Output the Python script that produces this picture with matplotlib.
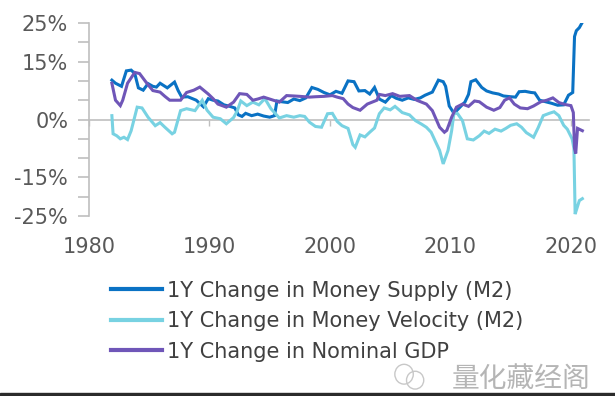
# 1Y change in M2, M2 velocity and nominal GDP

import matplotlib.pyplot as plt
from matplotlib.patches import Rectangle, Ellipse

# Data (% change y/y)
m2_years = [1981.9, 1982.2, 1982.7, 1983.1, 1983.5, 1983.8, 1984.1, 1984.5, 1984.9, 1985.3,
            1985.6, 1985.9, 1986.5, 1987.1, 1987.4, 1987.7, 1988.2, 1988.9, 1989.5, 1989.9,
            1990.3, 1990.7, 1991.2, 1991.7, 1992.1, 1992.4, 1992.7, 1993.0, 1993.5, 1994.0,
            1994.5, 1995.0, 1995.4, 1995.6, 1996.0, 1996.5, 1997.0, 1997.5, 1998.0, 1998.5,
            1999.0, 1999.5, 2000.0, 2000.5, 2001.0, 2001.5, 2002.0, 2002.4, 2002.9, 2003.3,
            2003.7, 2004.1, 2004.6, 2005.1, 2005.5, 2006.0, 2006.5, 2007.0, 2007.5, 2007.9,
            2008.5, 2009.0, 2009.4, 2009.6, 2009.9, 2010.3, 2010.7, 2011.2, 2011.5, 2011.7,
            2012.1, 2012.6, 2013.0, 2013.5, 2014.0, 2014.4, 2015.0, 2015.4, 2015.7, 2016.2,
            2016.7, 2017.0, 2017.4, 2017.9, 2018.4, 2018.9, 2019.4, 2019.8, 2020.15, 2020.3,
            2020.45, 2020.7, 2020.95]
m2_vals = [10.2, 9.4, 8.6, 12.6, 12.8, 11.9, 8.2, 7.6, 9.3, 8.6,
           8.4, 9.4, 8.2, 9.7, 7.5, 5.8, 5.9, 5.0, 3.3, 5.4,
           5.0, 4.8, 3.8, 3.4, 3.0, 1.2, 0.8, 1.6, 1.0, 1.4,
           0.9, 0.6, 1.0, 4.8, 4.6, 4.4, 5.3, 4.9, 5.6, 8.3,
           7.8, 7.0, 6.4, 7.3, 6.8, 10.0, 9.8, 7.4, 7.5, 6.6,
           8.3, 5.3, 4.5, 6.2, 5.5, 5.0, 5.6, 5.2, 5.6, 6.3,
           7.1, 10.2, 9.8, 8.6, 3.5, 1.6, 2.9, 4.5, 6.5, 9.8,
           10.3, 8.3, 7.4, 6.9, 6.6, 6.1, 5.9, 5.8, 7.2, 7.3,
           7.0, 6.9, 5.0, 4.6, 4.2, 3.7, 3.8, 6.3, 7.0, 21.5,
           23.0, 23.8, 25.2]

vel_years = [1981.9, 1982.0, 1982.3, 1982.6, 1982.9, 1983.2, 1983.5, 1984.0, 1984.4, 1984.9,
             1985.5, 1985.9, 1986.3, 1986.9, 1987.1, 1987.6, 1988.1, 1988.8, 1989.4, 1989.8,
             1990.3, 1990.9, 1991.4, 1992.0, 1992.3, 1992.6, 1993.1, 1993.6, 1994.1, 1994.6,
             1995.1, 1995.8, 1996.4, 1997.0, 1997.5, 1997.9, 1998.3, 1998.8, 1999.3, 1999.8,
             2000.2, 2000.6, 2001.0, 2001.5, 2001.9, 2002.1, 2002.5, 2002.9, 2003.3, 2003.7,
             2004.1, 2004.5, 2005.0, 2005.4, 2006.0, 2006.6, 2007.1, 2007.6, 2008.0, 2008.4,
             2008.8, 2009.1, 2009.4, 2009.8, 2010.1, 2010.3, 2010.6, 2011.0, 2011.4, 2011.9,
             2012.4, 2012.8, 2013.2, 2013.7, 2014.2, 2014.6, 2015.0, 2015.5, 2015.9, 2016.3,
             2016.9, 2017.3, 2017.7, 2018.2, 2018.6, 2019.0, 2019.4, 2019.7, 2020.1, 2020.25,
             2020.35, 2020.55, 2020.7, 2020.95]
vel_vals = [1.0, -3.7, -4.2, -5.0, -4.6, -5.2, -2.9, 3.2, 3.0, 0.6,
            -1.6, -0.8, -2.0, -3.7, -3.3, 2.3, 2.8, 2.3, 5.0, 2.4,
            0.6, 0.2, -1.1, 0.5, 2.2, 4.8, 3.6, 4.5, 3.8, 5.4,
            2.8, 0.4, 1.0, 0.6, 1.0, 0.8, -0.7, -1.8, -2.0, 1.5,
            1.6, -0.5, -1.6, -2.3, -6.5, -7.2, -4.0, -4.5, -3.3, -2.2,
            1.5, 3.0, 2.5, 3.4, 1.8, 1.2, -0.3, -1.2, -2.0, -3.3,
            -6.0, -8.0, -11.5, -8.0, -2.9, 1.8, 1.5, -0.3, -5.0, -5.3,
            -4.2, -3.0, -3.6, -2.5, -3.0, -2.3, -1.5, -1.1, -2.0, -3.4,
            -4.6, -2.0, 1.0, 1.6, 2.0, 1.0, -1.5, -2.5, -5.0, -7.5,
            -24.5, -22.5, -21.0, -20.5]

gdp_years = [1981.9, 1982.2, 1982.6, 1982.8, 1983.2, 1983.8, 1984.2, 1984.8, 1985.3, 1985.9,
             1986.3, 1986.7, 1987.6, 1988.1, 1988.7, 1989.2, 1989.9, 1990.3, 1990.7, 1991.4,
             1992.0, 1992.5, 1993.1, 1993.6, 1994.0, 1994.5, 1995.3, 1995.8, 1996.4, 1997.0,
             1997.5, 1998.3, 1998.8, 1999.5, 2000.2, 2000.6, 2001.1, 2001.5, 2001.9, 2002.5,
             2003.1, 2003.9, 2004.1, 2004.6, 2005.2, 2005.8, 2006.6, 2007.2, 2008.0, 2008.5,
             2009.1, 2009.5, 2009.7, 2010.1, 2010.5, 2011.0, 2011.5, 2012.0, 2012.4, 2013.0,
             2013.6, 2014.1, 2014.5, 2014.9, 2015.3, 2015.8, 2016.4, 2016.9, 2017.5, 2018.0,
             2018.5, 2019.0, 2019.5, 2020.0, 2020.2, 2020.3, 2020.4, 2020.55, 2020.75, 2020.95]
gdp_vals = [9.4, 5.0, 3.6, 5.0, 9.4, 12.2, 11.9, 9.4, 7.5, 7.1,
            6.0, 5.0, 5.0, 7.0, 7.6, 8.4, 6.6, 5.4, 4.0, 3.2,
            4.5, 6.7, 6.5, 5.0, 5.3, 5.8, 5.0, 4.5, 6.2, 6.1,
            6.0, 5.8, 5.9, 6.0, 6.2, 5.8, 5.4, 4.0, 3.1, 2.4,
            4.0, 5.0, 6.5, 6.2, 6.7, 6.0, 6.2, 5.0, 4.0, 2.3,
            -2.0, -3.3, -2.8, 0.6, 3.2, 4.0, 3.4, 4.8, 4.6, 3.2,
            2.4, 3.1, 5.0, 5.6, 4.0, 3.0, 2.8, 3.5, 4.6, 5.0,
            5.6, 4.4, 3.9, 3.6, 1.8, -7.5, -8.8, -2.3, -2.6, -2.9]

labels = ["1Y Change in Money Supply (M2)",
          "1Y Change in Money Velocity (M2)",
          "1Y Change in Nominal GDP"]
colors = ["#0A72C4", "#78D2E2", "#6F56B8"]

x_ticks = [1980, 1990, 2000, 2010, 2020]
y_ticks = [-25, -20, -15, -10, -5, 0, 5, 10, 15, 20, 25]
y_labeled = [25, 15, 0, -15, -25]

gray = "#BFBFBF"
txt = "#595959"

fig = plt.figure(figsize=(6.15, 3.96), dpi=100)
ax = fig.add_axes([0.1447, 0.4545, 0.813, 0.4874])

handles = []
for xs, ys, c, lab in zip([m2_years, vel_years, gdp_years], [m2_vals, vel_vals, gdp_vals], colors, labels):
    h, = ax.plot(xs, ys, color=c, lw=2.2, label=lab, zorder=3, solid_joinstyle='miter')
    handles.append(h)

ax.set_xlim(1980, 2021.5)
ax.set_ylim(-25, 25)

# zero line with small ticks, labels on a separate bottom axis
ax.spines['bottom'].set_position(('data', 0))
ax.spines['bottom'].set_color(gray)
ax.spines['bottom'].set_linewidth(1.2)
ax.spines['left'].set_color(gray)
ax.spines['left'].set_linewidth(1.2)
ax.spines['top'].set_visible(False)
ax.spines['right'].set_visible(False)
ax.set_xticks(x_ticks)
ax.tick_params(axis='x', length=4, width=1, color=gray, labelbottom=False)

sec = ax.secondary_xaxis('bottom')
sec.set_xticks(x_ticks, labels=[str(y) for y in x_ticks])
sec.tick_params(length=0, pad=15, labelsize=15, labelcolor=txt)
sec.spines['bottom'].set_visible(False)

ax.set_yticks(y_ticks, labels=[f"{v}%" if v in y_labeled else "" for v in y_ticks])
ax.tick_params(axis='y', length=8, width=1.2, color=gray, pad=7, labelsize=15, labelcolor=txt)

leg = fig.legend(handles=handles, loc='upper left', bbox_to_anchor=(0.1805, 0.291),
                 frameon=False, fontsize=15, handlelength=2.45, handletextpad=0.25,
                 labelspacing=0.5, borderpad=0, borderaxespad=0)
for t in leg.get_texts():
    t.set_color("#404040")
for l in leg.get_lines():
    l.set_linewidth(3)

# watermark and bottom bar
fig.text(0.848, 0.044, "量化藏经阁", family=['Noto Sans CJK SC', 'DejaVu Sans'],
         fontsize=20, color="#B5B5B5", ha='center', va='center')
fig.add_artist(Ellipse((0.657, 0.055), 0.03, 0.05, transform=fig.transFigure,
                       fill=False, ec="#C8C8C8", lw=1))
fig.add_artist(Ellipse((0.675, 0.04), 0.028, 0.045, transform=fig.transFigure,
                       fill=False, ec="#C8C8C8", lw=1))
fig.add_artist(Rectangle((0, 0), 1, 3.5 / 396, transform=fig.transFigure,
                         color="#2B2B2B", zorder=10))

fig.savefig("out.png", dpi=100)
